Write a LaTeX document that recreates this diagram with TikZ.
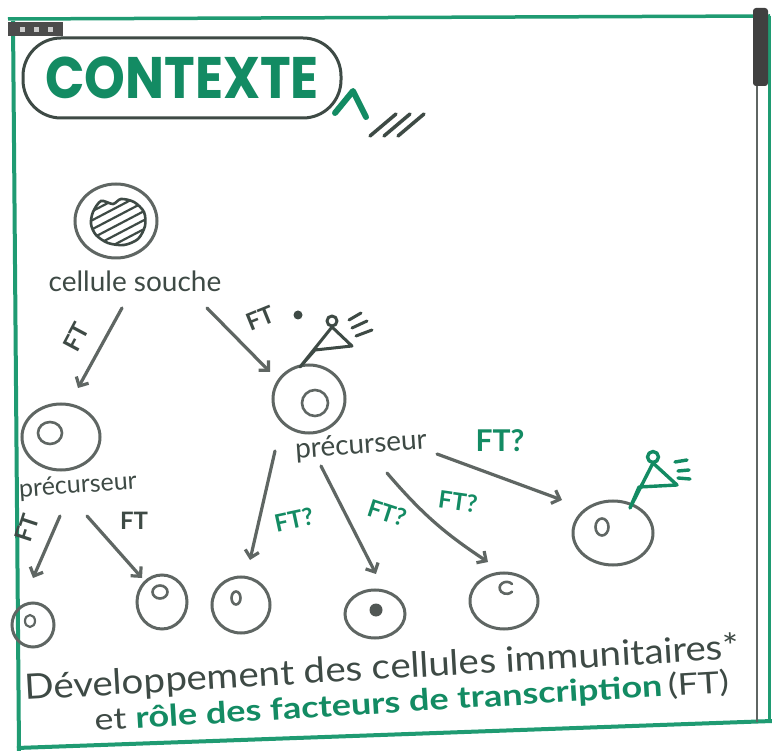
\documentclass[tikz,border=0pt]{standalone}
\usepackage{fontspec}
\setmainfont{Lato}
\newfontfamily\titlefont{Poppins}
\usetikzlibrary{arrows.meta,shapes.geometric}

\definecolor{framegreen}{HTML}{1F9B72}
\definecolor{ink}{HTML}{3E4A45}
\definecolor{pencil}{HTML}{5F6663}
\definecolor{marker}{HTML}{138B63}

\tikzset{
  cell/.style={draw=pencil, line width=3pt, ellipse, inner sep=0pt},
  nucleus/.style={draw=pencil, line width=2.6pt, ellipse, inner sep=0pt},
  flow/.style={draw=pencil, line width=3.2pt, line cap=round,
    -{Straight Barb[length=7pt,width=14pt]}},
  label/.style={text=ink, inner sep=0pt, font=\fontsize{28}{28}\selectfont},
  ftdark/.style={text=ink, inner sep=0pt, font=\bfseries\fontsize{24}{24}\selectfont},
  ftgreen/.style={text=marker, inner sep=0pt, font=\bfseries\fontsize{24}{24}\selectfont},
  greenflag/.style={draw=marker, line width=3.4pt, line cap=round, line join=round},
  greyflag/.style={draw=ink, line width=3pt, line cap=round, line join=round},
}

\begin{document}
\begin{tikzpicture}[x=1pt,y=-1pt]
\useasboundingbox (0,0) rectangle (772,751);
\fill[white] (0,0) rectangle (772,751);

% page frame and window chrome
\draw[framegreen, line width=3.5pt] (8,19) -- (770,16);
\draw[framegreen, line width=4pt] (13,21) -- (19,751);
\draw[framegreen, line width=4pt] (17,748) -- (772,721);
\draw[framegreen, line width=3pt] (769,16) -- (769,722);
\draw[pencil, line width=1.6pt] (757,20) -- (757,722);
\fill[black!75, rounded corners=3pt] (753,8) rectangle (768,86);
\fill[black!70] (8,22) rectangle (63,36);
\foreach \bx in {20,34,48} \fill[white!80!black] (\bx,27) rectangle ++(5,5);

% title bubble
\node[draw=ink, line width=3pt, rounded corners=38pt, minimum width=318pt,
      minimum height=80pt, inner sep=0pt] (title) at (182,78)
      {\titlefont\bfseries\color{marker}\fontsize{48}{48}\selectfont\scalebox{1.08}[1.22]{CONTEXTE}};
\draw[marker, line width=6pt, line cap=round, line join=round]
  (335,113) -- (353,91) -- (366,117);
\foreach \dx in {0,14,28}
  \draw[ink, line width=3.5pt, line cap=round] (370+\dx,136) -- (396+\dx,114);

% stem cell
\node[cell, minimum width=82pt, minimum height=74pt] (stem) at (116,221) {};
\begin{scope}
  \clip plot[smooth cycle] coordinates {(93,212) (101,201) (113,204) (121,199)
    (134,202) (144,212) (145,226) (138,239) (124,245) (108,243) (96,235) (91,224)};
  \foreach \k in {-60,-51,...,60}
    \draw[ink, line width=2.2pt] (85,230+\k) -- (150,196+\k);
\end{scope}
\draw[ink, line width=2.6pt] plot[smooth cycle] coordinates {(93,212) (101,201)
  (113,204) (121,199) (134,202) (144,212) (145,226) (138,239) (124,245) (108,243)
  (96,235) (91,224)};
\node[label] (stemlbl) at (135,281) {cellule souche};

% first precursors
\node[cell, minimum width=78pt, minimum height=66pt] (preL) at (61,437) {};
\node[nucleus, minimum width=24pt, minimum height=22pt] (preLn) at (50,433) {};
\node[label, rotate=4, font=\fontsize{25}{25}\selectfont] (preLlbl) at (78,486) {précurseur};

\node[cell, minimum width=72pt, minimum height=68pt] (preR) at (309,399) {};
\node[nucleus, minimum width=26pt, minimum height=26pt] (preRn) at (315,403) {};
\node[label, rotate=4] (preRlbl) at (361,446) {précurseur};

% receptor on the right precursor
\coordinate (fA) at (300,367);
\coordinate (fB) at (315,350);
\coordinate (fC) at (352,346);
\coordinate (fD) at (332,327);
\draw[greyflag] (fA) -- (fB) -- (fC) -- (fD) -- cycle;
\draw[greyflag] (332,321) circle (5pt);
\draw[greyflag] (349,320) -- (361,313);
\draw[greyflag] (352,328) -- (367,321);
\draw[greyflag] (356,336) -- (372,330);

% final cells
\node[cell, minimum width=80pt, minimum height=64pt] (cellR) at (613,533) {};
\node[nucleus, minimum width=13pt, minimum height=17pt] (cellRn) at (602,527) {};
\coordinate (gA) at (630,508);
\coordinate (gB) at (639,487);
\coordinate (gC) at (677,485);
\coordinate (gD) at (653,463);
\draw[greenflag] (gA) -- (gB) -- (gC) -- (gD) -- cycle;
\draw[greenflag] (653,457) circle (5.5pt);
\draw[greenflag] (675,462) -- (687,460);
\draw[greenflag] (678,471) -- (689,470);
\draw[greenflag] (678,478) -- (690,479);

\node[cell, minimum width=42pt, minimum height=44pt] (b1) at (33,625) {};
\node[nucleus, line width=2.2pt, minimum width=10pt, minimum height=12pt] (b1n) at (30,621) {};
\node[cell, minimum width=50pt, minimum height=54pt] (b2) at (162,602) {};
\node[nucleus, minimum width=15pt, minimum height=13pt] (b2n) at (160,592) {};
\node[cell, minimum width=58pt, minimum height=56pt] (b3) at (241,605) {};
\node[nucleus, minimum width=9pt, minimum height=13pt] (b3n) at (236,598) {};
\node[cell, minimum width=60pt, minimum height=48pt] (b4) at (375,614) {};
\node[circle, fill=pencil!85!black, minimum size=13pt, inner sep=0pt] (b4n) at (376,610) {};
\node[cell, minimum width=68pt, minimum height=56pt] (b5) at (504,601) {};
\draw[pencil, line width=2.6pt, line cap=round] (512,584) arc[start angle=40, end angle=320, x radius=7pt, y radius=6pt];

% differentiation arrows
\coordinate (s1) at (122,308); \coordinate (e1) at (78,388);
\coordinate (s2) at (207,308); \coordinate (e2) at (270,372);
\draw[flow] (s1) -- (e1);
\draw[flow] (s2) -- (e2);
\node[ftdark, rotate=62] (ft1) at (76,337) {FT};
\node[ftdark, rotate=22] (ft2) at (260,318) {FT};
\fill[ink] (298,315) circle (4.5pt);

\coordinate (s3) at (60,516); \coordinate (e3) at (33,578);
\coordinate (s4) at (87,516); \coordinate (e4) at (142,578);
\draw[flow] (s3) -- (e3);
\draw[flow] (s4) -- (e4);
\node[ftdark, rotate=72] (ft3) at (27,528) {FT};
\node[ftdark] (ft4) at (134,521) {FT};

\coordinate (s5) at (275,451); \coordinate (e5) at (250,560);
\coordinate (s6) at (321,466); \coordinate (e6) at (376,574);
\coordinate (s7) at (387,473); \coordinate (e7) at (488,562);
\coordinate (s8) at (437,454); \coordinate (e8) at (562,500);
\draw[flow] (s5) -- (e5);
\draw[flow] (s6) -- (e6);
\draw[flow] (s7) to[bend right=8] (e7);
\draw[flow] (s8) -- (e8);
\node[ftgreen, rotate=12] (ft5) at (294,520) {FT?};
\node[ftgreen, rotate=-18] (ft6) at (387,513) {FT?};
\node[ftgreen, rotate=-8] (ft7) at (458,502) {FT?};
\node[ftgreen, font=\bfseries\fontsize{30}{30}\selectfont] (ft8) at (500,441) {FT?};

% caption
\node[text=ink, anchor=base west, inner sep=0pt, rotate=3.3,
      font=\fontsize{35}{35}\selectfont] (cap1) at (25,700)
      {\scalebox{1.1}[1]{Développement des cellules immunitaires*}};
\node[anchor=base west, inner sep=0pt, rotate=3.5,
      font=\fontsize{30}{30}\selectfont] (cap2) at (95,731)
      {\scalebox{1.2}[1]{\textcolor{ink}{et} \textcolor{marker}{\bfseries rôle des facteurs de transcription}\,\textcolor{ink}{(FT)}}};
\end{tikzpicture}
\end{document}
